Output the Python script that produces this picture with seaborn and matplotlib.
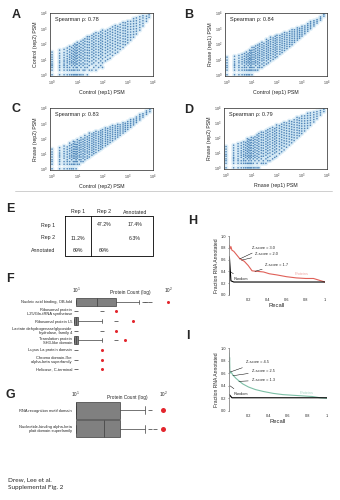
import numpy as np
import pandas as pd
import matplotlib
matplotlib.use("Agg")
import matplotlib.pyplot as plt
from matplotlib.lines import Line2D
from matplotlib.ticker import NullLocator, FixedLocator
import seaborn as sns

# ------------------------------------------------------------------ data
# scatter panels: PSM count in replicate X -> PSM counts in replicate Y
A_pts = {
    1: [1, 2, 3, 4, 5, 7, 10, 14, 20, 30], 2: [1, 2, 3, 4, 6, 8, 12, 17, 25, 40],
    3: [1, 2, 3, 4, 5, 7, 9, 13, 19, 28, 45], 4: [1, 2, 3, 4, 6, 8, 11, 16, 24, 36, 55],
    5: [1, 2, 3, 5, 7, 10, 14, 20, 30, 45, 70], 6: [1, 2, 4, 6, 8, 12, 17, 25, 38, 60],
    7: [1, 2, 3, 5, 7, 10, 15, 22, 33, 50, 80], 8: [1, 2, 4, 6, 9, 13, 19, 28, 42, 65, 100],
    9: [1, 3, 5, 7, 11, 16, 24, 36, 55, 85], 10: [1, 2, 3, 5, 8, 12, 18, 27, 40, 60, 90, 130],
    12: [1, 2, 4, 6, 9, 14, 21, 32, 48, 72, 110], 14: [1, 3, 5, 8, 12, 18, 27, 40, 60, 95, 150],
    17: [1, 2, 4, 6, 10, 15, 23, 35, 52, 80, 120, 180],
    20: [2, 3, 5, 8, 12, 19, 28, 42, 65, 100, 150, 220],
    25: [1, 3, 5, 8, 12, 18, 27, 40, 60, 90, 140, 210, 300],
    30: [2, 4, 7, 11, 17, 26, 38, 58, 88, 130, 200, 300],
    38: [2, 5, 8, 13, 20, 30, 46, 70, 105, 160, 240, 360],
    45: [3, 6, 10, 16, 25, 38, 58, 88, 130, 200, 300, 450],
    55: [2, 4, 8, 13, 20, 30, 46, 70, 105, 160, 240, 360, 550],
    70: [3, 6, 11, 18, 28, 42, 64, 96, 145, 220, 330, 500],
    85: [4, 8, 14, 22, 34, 52, 78, 118, 180, 270, 400, 620],
    100: [3, 6, 11, 18, 28, 44, 66, 100, 150, 230, 340, 520, 800],
    130: [8, 14, 24, 38, 58, 88, 130, 200, 300, 450, 680],
    160: [10, 18, 30, 46, 70, 105, 160, 240, 360, 540, 820],
    200: [12, 22, 36, 56, 85, 130, 195, 290, 440, 660, 1000],
    250: [18, 30, 48, 75, 110, 170, 250, 380, 570, 850, 1300],
    320: [25, 40, 62, 95, 145, 220, 330, 500, 750, 1100, 1600],
    400: [30, 50, 80, 120, 185, 280, 420, 630, 950, 1400],
    500: [45, 70, 110, 165, 250, 370, 560, 840, 1250, 1900],
    650: [60, 95, 145, 220, 330, 500, 750, 1100, 1650, 2500],
    800: [90, 140, 210, 320, 480, 720, 1080, 1600, 2400],
    1000: [120, 180, 270, 400, 600, 900, 1350, 2000, 3000],
    1300: [180, 270, 400, 600, 900, 1350, 2000, 3000],
    1700: [280, 420, 630, 950, 1400, 2100, 3100, 4500],
    2200: [450, 680, 1000, 1500, 2200, 3300, 5000],
    3000: [800, 1200, 1800, 2700, 4000, 6000],
    4000: [1500, 2200, 3300, 5000, 7000], 5500: [3000, 4500, 6500], 7000: [5500, 8000],
}
B_pts = {
    1: [1, 2, 3, 4, 6, 9, 14], 2: [1, 2, 3, 4, 5, 7, 10, 16], 3: [1, 2, 3, 4, 6, 8, 12, 18],
    4: [1, 2, 3, 5, 7, 10, 14, 21], 5: [1, 2, 3, 4, 6, 8, 11, 16, 24],
    6: [1, 2, 3, 5, 7, 10, 14, 20, 30], 7: [1, 2, 4, 6, 8, 11, 16, 23],
    8: [1, 2, 3, 5, 7, 10, 13, 19, 28, 40], 9: [2, 3, 4, 6, 9, 12, 17, 25, 36],
    10: [1, 2, 3, 5, 7, 10, 14, 20, 28, 40, 60], 12: [2, 3, 5, 7, 10, 14, 20, 29, 42, 60],
    14: [2, 4, 6, 8, 12, 17, 24, 34, 50, 75], 17: [2, 3, 5, 7, 10, 14, 20, 28, 40, 58, 85],
    20: [3, 4, 6, 9, 13, 18, 25, 35, 50, 72, 100],
    25: [3, 5, 8, 11, 16, 22, 31, 44, 62, 90, 130],
    30: [4, 6, 9, 13, 19, 27, 38, 54, 76, 110],
    38: [5, 8, 12, 17, 24, 34, 48, 68, 96, 140, 200],
    45: [6, 10, 14, 20, 29, 41, 58, 82, 115, 165],
    55: [8, 12, 18, 25, 36, 50, 70, 100, 140, 200, 280],
    70: [10, 15, 22, 32, 45, 64, 90, 128, 180, 250],
    85: [13, 19, 28, 40, 56, 80, 112, 160, 225, 320],
    100: [15, 23, 33, 47, 66, 94, 132, 186, 260, 370],
    130: [22, 32, 46, 65, 92, 130, 180, 255, 360],
    160: [28, 40, 58, 82, 115, 160, 225, 315, 440],
    200: [38, 54, 76, 105, 148, 205, 285, 400, 560],
    250: [50, 70, 98, 135, 190, 265, 370, 520],
    320: [68, 95, 130, 180, 250, 350, 480, 670],
    400: [90, 125, 170, 235, 325, 450, 620, 860],
    500: [130, 175, 240, 330, 450, 620, 850],
    650: [180, 240, 330, 450, 610, 830, 1130],
    800: [240, 320, 430, 580, 780, 1050],
    1000: [330, 440, 590, 790, 1060, 1420],
    1300: [470, 630, 840, 1120, 1500], 1700: [680, 900, 1200, 1600, 2100],
    2200: [1000, 1300, 1700, 2250, 2900], 3000: [1500, 1950, 2550, 3300],
    4000: [2300, 3000, 3900], 5500: [3600, 4600, 5800], 7500: [6500, 8500],
}
C_pts = {
    1: [1, 2, 3, 4, 6, 9, 13, 20], 2: [1, 2, 3, 4, 6, 8, 11, 16, 25],
    3: [1, 2, 3, 5, 7, 10, 14, 21, 32], 4: [1, 2, 3, 4, 6, 9, 13, 19, 28],
    5: [1, 2, 3, 5, 7, 10, 15, 22, 34, 50], 6: [1, 2, 4, 6, 8, 12, 17, 25, 38],
    7: [1, 2, 3, 5, 7, 10, 14, 20, 30, 45, 65], 8: [2, 3, 5, 7, 10, 14, 20, 29, 42, 60],
    9: [1, 3, 4, 6, 9, 13, 19, 27, 40], 10: [2, 3, 5, 7, 10, 14, 20, 28, 40, 58, 85],
    12: [2, 4, 6, 8, 12, 17, 24, 35, 50, 72], 14: [3, 4, 6, 9, 13, 19, 27, 38, 55, 80, 115],
    17: [3, 5, 7, 10, 15, 21, 30, 43, 62, 90],
    20: [4, 6, 9, 13, 18, 26, 37, 53, 76, 110, 160],
    25: [5, 7, 11, 15, 22, 31, 44, 63, 90, 130],
    30: [6, 9, 13, 19, 27, 38, 54, 77, 110, 160, 230],
    38: [8, 12, 17, 24, 34, 48, 68, 97, 140, 200],
    45: [10, 14, 20, 29, 41, 58, 82, 118, 170, 240],
    55: [12, 18, 26, 37, 52, 74, 105, 150, 210, 300],
    70: [16, 23, 33, 47, 66, 94, 133, 190, 270],
    85: [20, 29, 41, 58, 82, 116, 165, 235, 330],
    100: [25, 35, 50, 70, 98, 138, 195, 275, 390],
    130: [33, 47, 66, 92, 130, 180, 255, 360, 500],
    160: [42, 60, 84, 118, 165, 230, 325, 460],
    200: [55, 78, 110, 152, 212, 296, 415, 580],
    250: [72, 100, 140, 195, 270, 375, 520, 730],
    320: [95, 132, 184, 255, 355, 490, 680],
    400: [125, 172, 240, 330, 455, 630, 870],
    500: [165, 230, 315, 430, 590, 810],
    650: [230, 315, 430, 585, 800, 1090],
    800: [300, 410, 555, 750, 1020],
    1000: [400, 540, 730, 990, 1340], 1300: [560, 750, 1000, 1350, 1800],
    1700: [800, 1070, 1420, 1900], 2200: [1150, 1520, 2000, 2650],
    3000: [1700, 2250, 2950, 3900], 4000: [2600, 3400, 4400],
    5500: [4000, 5200, 6700], 7500: [6000, 8200],
}
D_pts = {
    1: [1, 2, 3, 4, 6, 8, 12, 18, 27], 2: [1, 2, 3, 4, 5, 7, 10, 15, 22, 33],
    3: [1, 2, 3, 4, 6, 9, 13, 19, 28, 42], 4: [1, 2, 3, 5, 7, 10, 14, 21, 31, 47],
    5: [1, 2, 3, 4, 6, 8, 12, 17, 25, 37, 55], 6: [1, 2, 3, 5, 7, 10, 15, 22, 33, 50],
    7: [1, 2, 4, 6, 9, 13, 19, 28, 42, 62, 90], 8: [1, 2, 3, 5, 7, 11, 16, 24, 36, 54, 80],
    9: [1, 2, 4, 6, 9, 14, 21, 31, 46, 70],
    10: [1, 2, 3, 5, 7, 10, 15, 22, 33, 50, 75, 110],
    12: [1, 2, 4, 6, 9, 13, 20, 30, 45, 68, 100],
    14: [1, 3, 5, 7, 11, 16, 24, 36, 54, 80, 120],
    17: [1, 2, 4, 6, 9, 14, 21, 32, 48, 72, 108, 160],
    20: [1, 3, 5, 8, 12, 18, 27, 40, 60, 90, 135, 200],
    25: [2, 4, 6, 10, 15, 22, 33, 50, 75, 112, 170, 250],
    30: [2, 3, 6, 9, 14, 21, 32, 48, 72, 108, 160, 240],
    38: [2, 4, 7, 11, 17, 26, 39, 58, 88, 130, 200, 300],
    45: [3, 5, 9, 14, 21, 32, 48, 72, 108, 160, 240, 360],
    55: [3, 6, 10, 16, 25, 38, 56, 85, 128, 190, 285, 430],
    70: [4, 8, 13, 20, 31, 47, 70, 105, 158, 235, 350, 520],
    85: [5, 10, 16, 25, 38, 57, 86, 128, 192, 288, 430],
    100: [6, 12, 19, 30, 46, 68, 102, 152, 228, 340, 510, 760],
    130: [9, 16, 26, 40, 60, 90, 135, 200, 300, 450, 680],
    160: [12, 21, 33, 50, 76, 114, 170, 255, 380, 570, 850],
    200: [16, 28, 44, 66, 100, 150, 225, 335, 500, 750, 1100],
    250: [24, 40, 62, 92, 138, 206, 308, 460, 690, 1030],
    320: [34, 55, 85, 128, 190, 285, 425, 635, 950, 1400],
    400: [48, 76, 115, 172, 256, 382, 570, 850, 1270],
    500: [68, 105, 158, 235, 350, 520, 775, 1150, 1700],
    650: [100, 150, 225, 335, 500, 745, 1110, 1650, 2450],
    800: [140, 210, 310, 460, 680, 1010, 1500, 2200],
    1000: [200, 295, 435, 640, 950, 1400, 2080, 3000],
    1300: [300, 440, 650, 960, 1420, 2100, 3100],
    1700: [460, 680, 1000, 1470, 2170, 3200, 4600],
    2200: [720, 1060, 1550, 2280, 3350, 4900],
    3000: [1200, 1750, 2550, 3700, 5400], 4000: [2000, 2900, 4200, 6000],
    5500: [3500, 5000, 7000], 7500: [6000, 8500],
}
scatter_xlabels = ["Control (rep1) PSM", "Control (rep1) PSM", "Control (rep2) PSM", "Rnase (rep1) PSM"]
scatter_ylabels = ["Control (rep2) PSM", "Rnase (rep1) PSM", "Rnase (rep2) PSM", "Rnase (rep2) PSM"]
spearman = [0.78, 0.84, 0.83, 0.79]

# panel E
table_cols = ["Rep 1", "Rep 2", "Annotated"]
table_rows = ["Rep 1", "Rep 2", "Annotated"]
table_vals = [["", "47.2%", "17.4%"],
              ["11.2%", "", "6.3%"],
              ["69%", "69%", ""]]

# panel F
F_terms = ["Nucleic acid binding, OB-fold",
           "Ribosomal protein\nL25/Gln-tRNA synthetase",
           "Ribosomal protein L5",
           "Lactate dehydrogenase/glycoside\nhydrolase, family 4",
           "Translation protein\nSH3-like domain",
           "Lupus La protein domain",
           "Chromo domain-like\nalpha-beta superfamily",
           "Helicase, C-terminal"]
F_box = [[10, 10, 17, 27, 48], [], [9.5, 9.5, 10, 10.5, 19], [], [9.5, 9.5, 10, 10.5, 19],
         [], [], []]
F_point_term = [0, 0, 0, 1, 1, 2, 3, 3, 4, 5, 6, 7]
F_point_count = [54, 58, 63, 10, 19, 27, 10, 19, 27, 10, 10, 10]
F_observed = [100, 27, 41, 27, 34, 19, 19, 19]

# panel G
G_terms = ["RNA recognition motif domain",
           "Nucleotide-binding alpha-beta\nplait domain superfamily"]
G_box = [[10, 10, 10, 32, 62], [10, 10, 21, 32, 62]]
G_point_term = [0, 1, 1]
G_point_count = [71, 71, 80]
G_observed = [100, 100]

# panel H
H_recall = [0.0, 0.005, 0.01, 0.02, 0.03, 0.05, 0.08, 0.11, 0.13, 0.16, 0.2, 0.24,
            0.3, 0.36, 0.42, 0.5, 0.6, 0.7, 0.8, 0.88, 0.94, 1.0]
H_prec = [0.80, 0.84, 0.78, 0.82, 0.76, 0.74, 0.68, 0.62, 0.60, 0.57, 0.50, 0.41,
          0.40, 0.39, 0.36, 0.34, 0.31, 0.29, 0.28, 0.28, 0.25, 0.22]
H_rand_recall = [0.004, 0.004, 0.02, 0.05, 0.3, 0.6, 1.0]
H_rand_prec = [0.0, 0.65, 0.24, 0.22, 0.22, 0.22, 0.22]
H_notes = [("Z-score = 3.0", 0.11, 0.61, 0.24, 0.80),
           ("Z-score = 2.0", 0.13, 0.59, 0.27, 0.69),
           ("Z-score = 1.7", 0.27, 0.40, 0.38, 0.51)]

# panel I
I_recall = [0.0, 0.003, 0.006, 0.01, 0.02, 0.04, 0.07, 0.1, 0.14, 0.2, 0.27, 0.35,
            0.45, 0.55, 0.65, 0.75, 0.85, 0.93, 1.0]
I_prec = [0.92, 0.70, 0.85, 0.60, 0.62, 0.57, 0.52, 0.48, 0.43, 0.38, 0.34, 0.31,
          0.28, 0.26, 0.25, 0.24, 0.23, 0.21, 0.20]
I_rand_recall = [0.003, 0.03, 0.3, 0.6, 1.0]
I_rand_prec = [0.26, 0.21, 0.21, 0.21, 0.21]
I_notes = [("Z-score = 4.5", 0.015, 0.62, 0.17, 0.77),
           ("Z-score = 2.5", 0.04, 0.56, 0.23, 0.63),
           ("Z-score = 1.3", 0.10, 0.47, 0.23, 0.49)]

# ------------------------------------------------------------------ style
sns.set_style("white")
plt.rcParams['font.family'] = ['Liberation Sans', 'DejaVu Sans']
plt.rcParams['axes.linewidth'] = 0.5
plt.rcParams['mathtext.default'] = 'regular'

W, H = 340, 500
fig = plt.figure(figsize=(3.4, 5.0), dpi=100)
fig.patch.set_facecolor('white')


def fa(l, t, w, h):
    return [l / W, 1 - (t + h) / H, w / W, h / H]


def letter(x, y, s):
    fig.text(x / W, 1 - y / H, s, fontsize=9, fontweight='bold', ha='left', va='center')


def flat(d):
    xs, ys = [], []
    for k, v in d.items():
        xs += [k] * len(v)
        ys += v
    return xs, ys


# ------------------------------------------------------------------ A-D
scatter_boxes = [fa(50, 13, 103, 63), fa(225, 13, 102, 63),
                 fa(50, 108, 103, 62), fa(224, 108, 103, 61)]
scatter_data = [A_pts, B_pts, C_pts, D_pts]
for i, (rect, pts) in enumerate(zip(scatter_boxes, scatter_data)):
    ax = fig.add_axes(rect)
    xs, ys = flat(pts)
    df = pd.DataFrame({'x': xs, 'y': ys})
    sns.scatterplot(data=df, x='x', y='y', s=12, color='#c8e3f3', alpha=0.55,
                    edgecolor='none', linewidth=0, ax=ax)
    sns.scatterplot(data=df, x='x', y='y', s=1.3, color='#3a74ad', alpha=0.85,
                    edgecolor='none', linewidth=0, ax=ax)
    ax.set_xscale('log')
    ax.set_yscale('log')
    ax.set_xlim(10 ** -0.08, 10 ** 4.0)
    ax.set_ylim(10 ** -0.08, 10 ** 4.02)
    ax.xaxis.set_major_locator(FixedLocator([1, 10, 100, 1000, 10000]))
    ax.yaxis.set_major_locator(FixedLocator([1, 10, 100, 1000, 10000]))
    ax.xaxis.set_minor_locator(NullLocator())
    ax.yaxis.set_minor_locator(NullLocator())
    ax.tick_params(labelsize=2.6, length=1.2, width=0.4, pad=0.8, colors='#333333')
    for sp in ax.spines.values():
        sp.set_linewidth(0.5)
        sp.set_color('#222222')
    ax.set_xlabel(scatter_xlabels[i], fontsize=3.8, labelpad=1.2)
    ax.set_ylabel(scatter_ylabels[i], fontsize=3.8, labelpad=1.0)
    ax.text(0.05, 0.89, f"Spearman \u03c1: {spearman[i]:.2f}", transform=ax.transAxes,
            fontsize=4.0, va='center', ha='left')

letter(12, 15, "A")
letter(184, 15, "B")
letter(12, 109, "C")
letter(184, 110, "D")

# divider
fig.add_artist(Line2D([15 / W, 332 / W], [1 - 191 / H, 1 - 191 / H], color='#c8c8c8', lw=0.6))

# ------------------------------------------------------------------ E (table)
letter(6, 209, "E")
axE = fig.add_axes([0, 0, 1, 1], zorder=-1)
axE.set_xlim(0, W)
axE.set_ylim(H, 0)
axE.axis('off')
col_x = [78, 104, 135]
row_y = [225, 238, 250]
fs = 3.8
for cx, c in zip(col_x, table_cols):
    axE.text(cx, 212, c, fontsize=fs, ha='center', va='center')
for ry, r in zip(row_y, table_rows):
    axE.text(55, ry, r, fontsize=fs, ha='right', va='center')
for ri, row in enumerate(table_vals):
    for ci, v in enumerate(row):
        if v:
            axE.text(col_x[ci], row_y[ri], v, fontsize=fs, ha='center', va='center')
axE.plot([65, 153, 153, 65, 65], [216, 216, 256, 256, 216], color='black', lw=0.6)
axE.plot([91, 91], [216, 256], color='black', lw=0.6)


# ------------------------------------------------------------------ F, G
def box_panel(rect, terms, box, pt_t, pt_c, obs, red_size, width, title_y):
    ax = fig.add_axes(rect)
    bt, bc = [], []
    for t, vals in zip(terms, box):
        bt += [t] * len(vals)
        bc += vals
    dfb = pd.DataFrame({'term': bt, 'count': bc})
    sns.boxplot(data=dfb, x='count', y='term', order=terms, orient='h', whis=(0, 100),
                width=width, color='#808080', saturation=1, linecolor='#3c3c3c',
                linewidth=0.5, fliersize=0, log_scale=True, ax=ax)
    dfo = pd.DataFrame({'term': [terms[k] for k in pt_t], 'count': pt_c})
    sns.stripplot(data=dfo, x='count', y='term', order=terms, orient='h', jitter=False,
                  marker='_', size=3.0, linewidth=0.6, color='#555555', ax=ax)
    dfr = pd.DataFrame({'term': terms, 'count': obs})
    sns.stripplot(data=dfr, x='count', y='term', order=terms, orient='h', jitter=False,
                  size=red_size, color='#e3262d', linewidth=0, ax=ax)
    ax.set_xscale('log')
    ax.set_xlim(9.5, 110)
    ax.xaxis.tick_top()
    ax.xaxis.set_major_locator(FixedLocator([10, 100]))
    ax.xaxis.set_minor_locator(NullLocator())
    ax.set_xticklabels(['10$^1$', '10$^2$'])
    ax.tick_params(axis='x', length=0, labelsize=3.4, pad=1.6)
    ax.tick_params(axis='y', length=0, labelsize=2.9, pad=1.5)
    for lab in ax.get_yticklabels():
        lab.set_linespacing(1.0)
    ax.set_xlabel('')
    ax.set_ylabel('')
    sns.despine(ax=ax, left=True, bottom=True, top=True, right=True)
    ax.text(0.57, title_y, "Protein Count (log)", transform=ax.transAxes, fontsize=3.4,
            ha='center', va='bottom')
    return ax


letter(6, 279, "F")
box_panel(fa(74, 297, 98, 77), F_terms, F_box, F_point_term, F_point_count,
          F_observed, 2.2, 0.85, 1.02)
letter(6, 395, "G")
box_panel(fa(74, 401, 93, 37), G_terms, G_box, G_point_term, G_point_count,
          G_observed, 3.6, 0.9, 1.04)


# ------------------------------------------------------------------ H, I
def pr_panel(rect, rx, ry, col, rrx, rry, notes, prot_xy, label_col):
    ax = fig.add_axes(rect)
    sns.lineplot(x=rx, y=ry, color=col, lw=0.8, sort=False, estimator=None, ax=ax)
    sns.lineplot(x=rrx, y=rry, color='black', lw=0.8, sort=False, estimator=None, ax=ax)
    ax.set_xlim(0, 1.0)
    ax.set_ylim(0, 1.0)
    ax.set_xticks([0.2, 0.4, 0.6, 0.8, 1.0])
    ax.set_xticklabels(['0.2', '0.4', '0.6', '0.8', '1'])
    ax.set_yticks([0, 0.2, 0.4, 0.6, 0.8, 1.0])
    ax.set_yticklabels(['0.0', '0.2', '0.4', '0.6', '0.8', '1.0'])
    ax.tick_params(axis='x', length=0, labelsize=2.8, pad=2.0)
    ax.tick_params(axis='y', length=1.0, width=0.4, labelsize=2.8, pad=1.0, left=True)
    sns.despine(ax=ax, top=True, right=True, bottom=True)
    ax.spines['left'].set_color('#888888')
    ax.spines['left'].set_linewidth(0.6)
    ax.set_xlabel("Recall", fontsize=4.2, labelpad=1.0)
    ax.set_ylabel("Fraction RNA Annotated", fontsize=3.6, labelpad=1.5)
    for txt, x0, y0, x1, y1 in notes:
        ax.annotate(txt, xy=(x0, y0), xytext=(x1, y1), fontsize=2.8, va='center',
                    ha='left', arrowprops=dict(arrowstyle='-', lw=0.35, color='black',
                                               shrinkA=0, shrinkB=0))
    ax.annotate("Random", xy=(0.01, 0.40), xytext=(0.05, 0.27), fontsize=2.8,
                va='center', ha='left',
                arrowprops=dict(arrowstyle='-', lw=0.35, color='black', shrinkA=0, shrinkB=0))
    ax.text(prot_xy[0], prot_xy[1], "Proteins", fontsize=2.8, color=label_col,
            ha='left', va='center')
    return ax


letter(188, 221, "H")
pr_panel(fa(229, 236, 96, 59), H_recall, H_prec, '#e06058', H_rand_recall, H_rand_prec,
         H_notes, (0.68, 0.36), '#f0a8a4')
letter(186, 336, "I")
pr_panel(fa(229, 348, 98, 63), I_recall, I_prec, '#7dbfa6', I_rand_recall, I_rand_prec,
         I_notes, (0.72, 0.28), '#a8d8c6')

# ------------------------------------------------------------------ footer
fig.text(8 / W, 1 - 480 / H, "Drew, Lee et al.", fontsize=4.6, family='Lato', va='center')
fig.text(8 / W, 1 - 487.5 / H, "Supplemental Fig. 2", fontsize=4.6, family='Lato', va='center')

fig.savefig("out.png", dpi=100, facecolor='white')
